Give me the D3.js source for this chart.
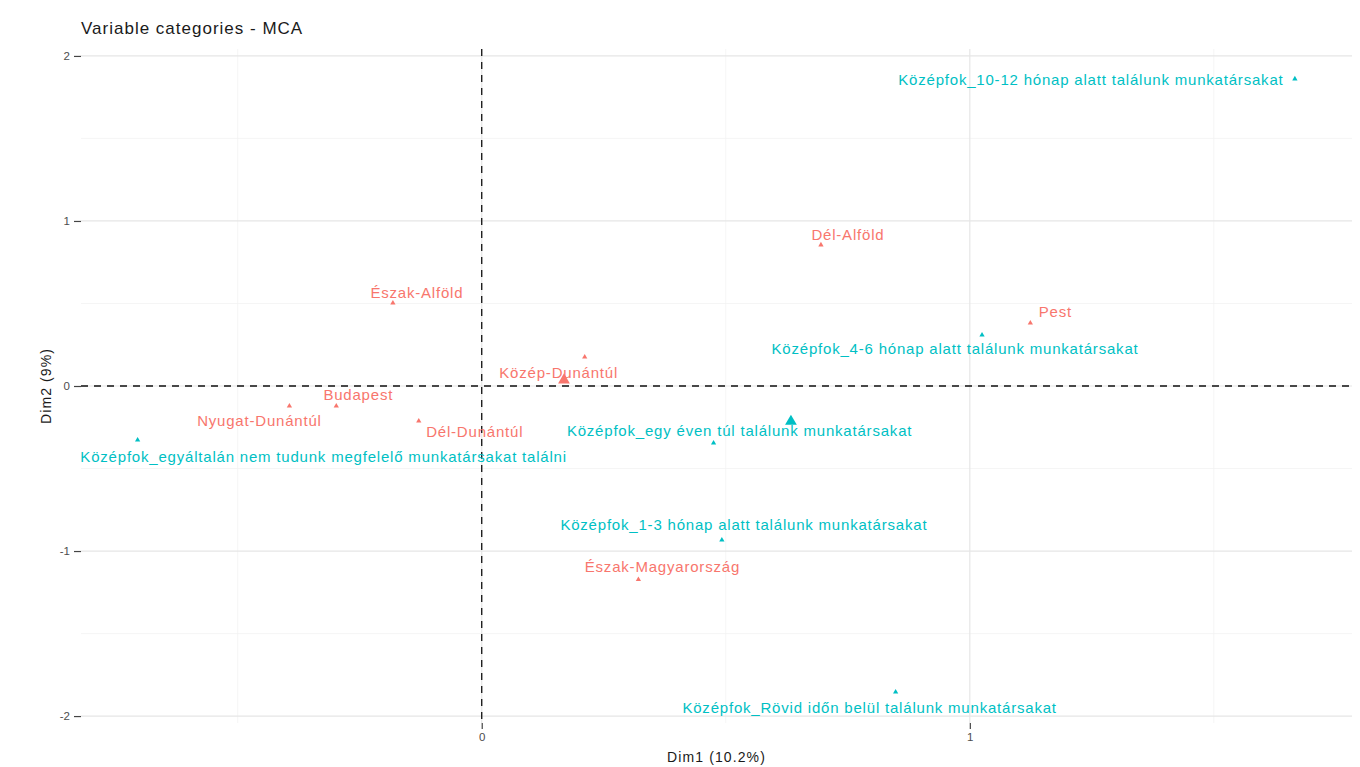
<!DOCTYPE html>
<html>
<head>
<meta charset="utf-8">
<script src="https://cdn.jsdelivr.net/npm/d3@7"></script>
<style>
  html, body { margin: 0; padding: 0; background: #ffffff; }
  svg { display: block; font-family: "Liberation Sans", Arial, sans-serif; }
</style>
</head>
<body>
<svg id="chart" width="1360" height="767"></svg>
<script>
// MCA coordinates of the variable categories (Dim1, Dim2)
const regionNames = ["Dél-Alföld", "Észak-Alföld", "Pest", "Közép-Dunántúl", "Budapest",
  "Nyugat-Dunántúl", "Dél-Dunántúl", "Észak-Magyarország"];
const regionDim1 = [0.695, -0.182, 1.124, 0.211, -0.298, -0.394, -0.129, 0.321];
const regionDim2 = [0.855, 0.503, 0.382, 0.176, -0.121, -0.121, -0.212, -1.172];

const hiringNames = [
  "Középfok_10-12 hónap alatt találunk munkatársakat",
  "Középfok_4-6 hónap alatt találunk munkatársakat",
  "Középfok_egy éven túl találunk munkatársakat",
  "Középfok_egyáltalán nem tudunk megfelelő munkatársakat találni",
  "Középfok_1-3 hónap alatt találunk munkatársakat",
  "Középfok_Rövid időn belül találunk munkatársakat"
];
const hiringDim1 = [1.666, 1.025, 0.475, -0.705, 0.492, 0.848];
const hiringDim2 = [1.861, 0.309, -0.345, -0.327, -0.933, -1.854];

const xTicks = [0, 1];
const yTicks = [-2, -1, 0, 1, 2];
const xMinor = [-0.5, 0.5, 1.5];
const yMinor = [-1.5, -0.5, 0.5, 1.5];

const groupColors = { region: "#F8766D", hiring: "#00BFC4" };

// label placement (pixel offset of the text centre from its point, repel-style)
const labelShift = {
  "Dél-Alföld": [27, -10],
  "Észak-Alföld": [24, -10],
  "Pest": [25, -11],
  "Közép-Dunántúl": [-26, 16],
  "Budapest": [22, -11],
  "Nyugat-Dunántúl": [-30, 15],
  "Dél-Dunántúl": [56, 11],
  "Észak-Magyarország": [24, -13],
  "Középfok_10-12 hónap alatt találunk munkatársakat": [-204, 1],
  "Középfok_4-6 hónap alatt találunk munkatársakat": [-27, 14],
  "Középfok_egy éven túl találunk munkatársakat": [26, -12],
  "Középfok_egyáltalán nem tudunk megfelelő munkatársakat találni": [186, 17],
  "Középfok_1-3 hónap alatt találunk munkatársakat": [22, -15],
  "Középfok_Rövid időn belül találunk munkatársakat": [-26, 16]
};

const points = [
  ...regionNames.map((n, i) => ({ name: n, x: regionDim1[i], y: regionDim2[i], group: "region" })),
  ...hiringNames.map((n, i) => ({ name: n, x: hiringDim1[i], y: hiringDim2[i], group: "hiring" }))
];

const svg = d3.select("#chart");
const panel = { left: 81, right: 1352, top: 49, bottom: 723 };

const x = d3.scaleLinear().domain([-0.821, 1.783]).range([panel.left, panel.right]);
const y = d3.scaleLinear().domain([-2.042, 2.042]).range([panel.bottom, panel.top]);

// grid
const grid = svg.append("g");
grid.selectAll(".vminor").data(xMinor).join("line")
  .attr("x1", d => x(d)).attr("x2", d => x(d))
  .attr("y1", panel.top).attr("y2", panel.bottom)
  .attr("stroke", "#f0f0f0").attr("stroke-width", 0.7);
grid.selectAll(".hminor").data(yMinor).join("line")
  .attr("y1", d => y(d)).attr("y2", d => y(d))
  .attr("x1", panel.left).attr("x2", panel.right)
  .attr("stroke", "#f0f0f0").attr("stroke-width", 0.7);
grid.selectAll(".vmajor").data(xTicks).join("line")
  .attr("x1", d => x(d)).attr("x2", d => x(d))
  .attr("y1", panel.top).attr("y2", panel.bottom)
  .attr("stroke", "#e6e6e6").attr("stroke-width", 1.2);
grid.selectAll(".hmajor").data(yTicks).join("line")
  .attr("y1", d => y(d)).attr("y2", d => y(d))
  .attr("x1", panel.left).attr("x2", panel.right)
  .attr("stroke", "#e6e6e6").attr("stroke-width", 1.2);

// axes
const xAxis = d3.axisBottom(x).tickValues(xTicks).tickSize(6).tickPadding(4).tickFormat(d3.format("d"));
const yAxis = d3.axisLeft(y).tickValues(yTicks).tickSize(7).tickPadding(4).tickFormat(d => d < 0 ? "-" + Math.abs(d) : d);
const gx = svg.append("g").attr("transform", `translate(0,${panel.bottom})`).call(xAxis);
const gy = svg.append("g").attr("transform", `translate(${panel.left},0)`).call(yAxis);
[gx, gy].forEach(g => {
  g.select(".domain").remove();
  g.selectAll(".tick line").attr("stroke", "#444444").attr("stroke-width", 1.2);
  g.selectAll(".tick text").attr("fill", "#4d4d4d").style("font-size", "11.5px")
    .style("font-family", "'Liberation Sans', Arial, sans-serif");
});

// reference lines at the origin
svg.append("line")
  .attr("x1", x(0)).attr("x2", x(0)).attr("y1", panel.top).attr("y2", panel.bottom)
  .attr("stroke", "#111").attr("stroke-width", 1.3).attr("stroke-dasharray", "7,6");
svg.append("line")
  .attr("y1", y(0)).attr("y2", y(0)).attr("x1", panel.left).attr("x2", panel.right)
  .attr("stroke", "#111").attr("stroke-width", 1.3).attr("stroke-dasharray", "7,6");

// category points
const tri = d3.symbol().type(d3.symbolTriangle);
svg.append("g").selectAll("path").data(points).join("path")
  .attr("d", tri.size(12)())
  .attr("transform", d => `translate(${x(d.x)},${y(d.y)})`)
  .attr("fill", d => groupColors[d.group]);

// group mean points
const means = ["region", "hiring"].map(g => {
  const sub = points.filter(p => p.group === g);
  return { group: g, x: d3.mean(sub, p => p.x), y: d3.mean(sub, p => p.y) };
});
svg.append("g").selectAll("path").data(means).join("path")
  .attr("d", d3.symbol().type(d3.symbolTriangle).size(60)())
  .attr("transform", d => `translate(${x(d.x)},${y(d.y)})`)
  .attr("fill", d => groupColors[d.group]);

// labels
svg.append("g").selectAll("text").data(points).join("text")
  .attr("x", d => x(d.x) + labelShift[d.name][0])
  .attr("y", d => y(d.y) + labelShift[d.name][1])
  .attr("dy", "0.35em")
  .attr("text-anchor", "middle")
  .attr("fill", d => groupColors[d.group])
  .style("font-size", "15px")
  .style("letter-spacing", "0.8px")
  .text(d => d.name);

// title and axis titles
svg.append("text").attr("x", panel.left).attr("y", 34)
  .attr("fill", "#1a1a1a").style("font-size", "17px").style("letter-spacing", "1px")
  .text("Variable categories - MCA");
svg.append("text").attr("x", (panel.left + panel.right) / 2).attr("y", 762)
  .attr("text-anchor", "middle").attr("fill", "#1a1a1a")
  .style("font-size", "14px").style("letter-spacing", "1.1px")
  .text("Dim1 (10.2%)");
svg.append("text")
  .attr("transform", `translate(51,${(panel.top + panel.bottom) / 2}) rotate(-90)`)
  .attr("text-anchor", "middle").attr("fill", "#1a1a1a")
  .style("font-size", "14px").style("letter-spacing", "1.1px")
  .text("Dim2 (9%)");
</script>
</body>
</html>
